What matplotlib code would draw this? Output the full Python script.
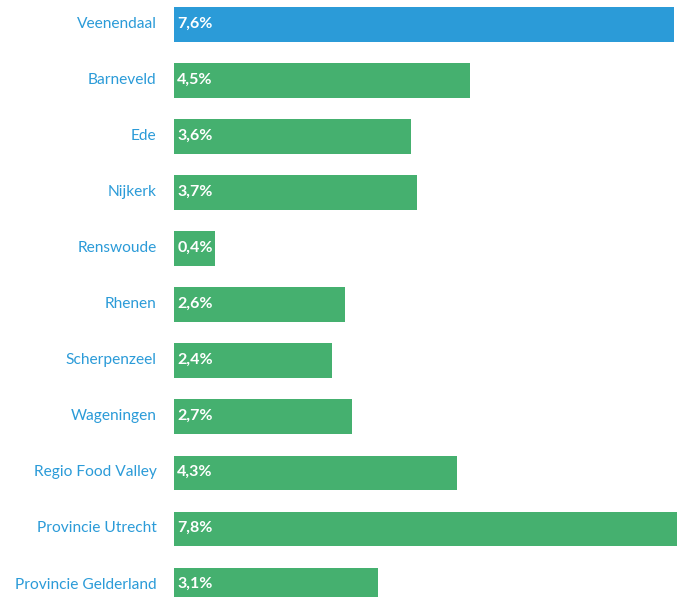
import matplotlib
matplotlib.use("Agg")
import matplotlib.pyplot as plt
import matplotlib.transforms as mtransforms

plt.rcParams['font.family'] = ['Lato', 'DejaVu Sans']

# data
regions = ["Veenendaal", "Barneveld", "Ede", "Nijkerk", "Renswoude", "Rhenen",
           "Scherpenzeel", "Wageningen", "Regio Food Valley", "Provincie Utrecht",
           "Provincie Gelderland"]
values = [7.6, 4.5, 3.6, 3.7, 0.4, 2.6, 2.4, 2.7, 4.3, 7.8, 3.1]
labels = ["7,6%", "4,5%", "3,6%", "3,7%", "0,4%", "2,6%", "2,4%", "2,7%",
          "4,3%", "7,8%", "3,1%"]

BLUE = "#2b9bd8"
GREEN = "#45b06f"
MIN_W = 0.62  # bars are never narrower than their label
colors = [BLUE] + [GREEN] * (len(regions) - 1)

fig = plt.figure(figsize=(6.77, 5.97), dpi=100)
ax = fig.add_axes([174 / 677, 0, 1 - 174 / 677, 1])

ypos = list(range(len(regions)))
ax.barh(ypos, [max(v, MIN_W) for v in values], height=0.62, color=colors)

for y, lab in zip(ypos, labels):
    ax.text(0.05, y - 0.02, lab, color="white", fontsize=11.5, fontweight="bold",
            va="center", ha="left")

ax.set_xlim(0, 7.65)
ax.set_ylim(10.214, -0.437)
ax.set_yticks(ypos)
ax.set_yticklabels(regions, color=BLUE, fontsize=11.2)
ax.tick_params(axis="y", length=0, pad=12.5)
shift = mtransforms.ScaledTranslation(0, 2 / 100, fig.dpi_scale_trans)
for t in ax.get_yticklabels():
    t.set_transform(t.get_transform() + shift)
ax.set_xticks([])
for s in ax.spines.values():
    s.set_visible(False)

fig.savefig("out.png", dpi=100)
